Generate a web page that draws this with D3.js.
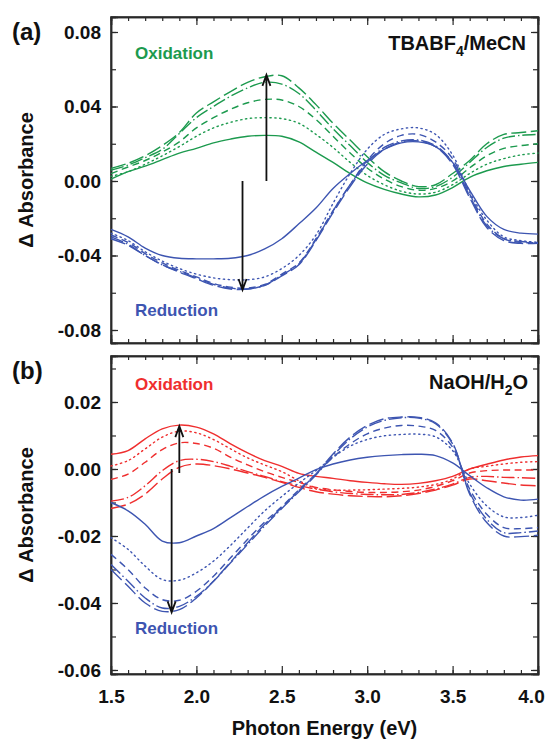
<!DOCTYPE html>
<html>
<head>
<meta charset="utf-8">
<script src="https://cdn.jsdelivr.net/npm/d3@7"></script>
<style>
  body { margin: 0; background: #fff; }
  svg { font-family: "Liberation Sans", Arial, sans-serif; font-weight: bold; }
  .axis path { stroke: #2a2a2a; stroke-width: 1.5; }
  .axis line { stroke: #2a2a2a; stroke-width: 1.2; }
  .axis text { font-size: 19px; font-weight: bold; fill: #111; font-family: "Liberation Sans", Arial, sans-serif; }
</style>
</head>
<body>
<div class="chart"></div>
<script>
// photon energy grid (eV)
const energy = [1.5,1.6,1.7,1.8,1.9,2.0,2.1,2.2,2.3,2.4,2.5,2.6,2.7,2.8,2.9,3.0,3.1,3.2,3.3,3.4,3.5,3.6,3.7,3.8,3.9,4.0];

// (a) TBABF4/MeCN, oxidation (green)
const tbaOxSolid  = [0.001,0.005,0.008,0.0115,0.015,0.0175,0.0205,0.0225,0.024,0.0245,0.024,0.021,0.0155,0.010,0.004,-0.001,-0.0045,-0.007,-0.0085,-0.0075,-0.0035,0.002,0.0055,0.0078,0.009,0.010];
const tbaOxDot    = [0.0025,0.005,0.009,0.0135,0.0185,0.024,0.0285,0.0315,0.0335,0.034,0.0335,0.031,0.025,0.018,0.010,0.003,-0.002,-0.0055,-0.007,-0.006,-0.002,0.004,0.009,0.012,0.014,0.015];
const tbaOxDash   = [0.004,0.0075,0.011,0.0155,0.021,0.0285,0.034,0.0385,0.042,0.0438,0.0435,0.040,0.033,0.024,0.015,0.007,0.001,-0.003,-0.005,-0.004,0.000,0.007,0.0135,0.0175,0.019,0.020];
const tbaOxDashDot= [0.0058,0.0085,0.0125,0.017,0.0255,0.034,0.040,0.0455,0.050,0.053,0.052,0.047,0.038,0.028,0.019,0.010,0.003,-0.001,-0.004,-0.003,0.002,0.010,0.018,0.023,0.0245,0.025];
const tbaOxLong   = [0.0068,0.0095,0.0135,0.019,0.026,0.0365,0.0425,0.048,0.053,0.056,0.0565,0.050,0.041,0.031,0.022,0.013,0.005,0.000,-0.003,-0.002,0.004,0.011,0.020,0.025,0.026,0.027];

// (a) TBABF4/MeCN, reduction (blue)
const tbaRedSolid  = [-0.026,-0.030,-0.036,-0.040,-0.0415,-0.0418,-0.0418,-0.0415,-0.040,-0.0365,-0.031,-0.023,-0.0145,-0.004,0.004,0.011,0.017,0.0205,0.021,0.0185,0.010,-0.005,-0.019,-0.026,-0.028,-0.0285];
const tbaRedDot    = [-0.028,-0.032,-0.038,-0.043,-0.047,-0.050,-0.052,-0.053,-0.053,-0.0515,-0.047,-0.040,-0.029,-0.012,0.004,0.017,0.025,0.028,0.0285,0.025,0.014,-0.006,-0.021,-0.030,-0.032,-0.033];
const tbaRedDash   = [-0.029,-0.033,-0.039,-0.044,-0.048,-0.0515,-0.055,-0.057,-0.0575,-0.0555,-0.050,-0.044,-0.031,-0.016,-0.002,0.011,0.020,0.0245,0.025,0.021,0.012,-0.007,-0.023,-0.031,-0.033,-0.033];
const tbaRedDashDot= [-0.030,-0.034,-0.040,-0.045,-0.0485,-0.052,-0.0555,-0.0575,-0.058,-0.056,-0.0505,-0.0445,-0.0315,-0.016,-0.002,0.010,0.018,0.0215,0.022,0.019,0.010,-0.008,-0.024,-0.031,-0.0325,-0.033];
const tbaRedLong   = [-0.031,-0.0345,-0.040,-0.045,-0.049,-0.0525,-0.056,-0.058,-0.058,-0.056,-0.051,-0.045,-0.032,-0.017,-0.003,0.009,0.017,0.021,0.0215,0.0185,0.009,-0.009,-0.025,-0.032,-0.0335,-0.0335];

// (b) NaOH/H2O, oxidation (red)
const naohOxSolid  = [0.0044,0.0055,0.009,0.012,0.0131,0.0125,0.0105,0.0075,0.0048,0.0025,0.0008,-0.0013,-0.0022,-0.0028,-0.0035,-0.004,-0.0044,-0.0046,-0.0043,-0.0035,-0.0022,0.000,0.0014,0.0027,0.0036,0.004];
const naohOxDot    = [0.0009,0.0025,0.006,0.0095,0.0113,0.0108,0.0088,0.006,0.0033,0.0012,-0.0008,-0.0035,-0.0058,-0.0063,-0.0063,-0.0062,-0.006,-0.0058,-0.0054,-0.0046,-0.003,0.000,0.0008,0.0015,0.002,0.0022];
const naohOxDash   = [-0.0031,-0.0015,0.002,0.0058,0.0078,0.0076,0.0062,0.0035,0.0012,-0.0008,-0.0025,-0.004,-0.0055,-0.0062,-0.0067,-0.007,-0.007,-0.0068,-0.0063,-0.0052,-0.0035,-0.0012,-0.0005,-0.0003,-0.0003,-0.0003];
const naohOxDashDot= [-0.0096,-0.0085,-0.005,-0.0005,0.0025,0.0029,0.0022,0.0008,-0.0008,-0.0022,-0.0038,-0.005,-0.006,-0.0068,-0.0073,-0.0076,-0.0077,-0.0076,-0.007,-0.006,-0.0045,-0.0025,-0.0022,-0.0025,-0.0026,-0.0028];
const naohOxLong   = [-0.0118,-0.0105,-0.0075,-0.003,0.0005,0.0015,0.001,0.000,-0.0012,-0.0025,-0.004,-0.0055,-0.0068,-0.0075,-0.008,-0.0082,-0.0083,-0.008,-0.0073,-0.0063,-0.0048,-0.003,-0.0035,-0.0042,-0.0048,-0.005];

// (b) NaOH/H2O, reduction (blue)
const naohRedSolid  = [-0.010,-0.0125,-0.0165,-0.0215,-0.022,-0.020,-0.0178,-0.0145,-0.0112,-0.008,-0.0052,-0.0027,-0.0002,0.0015,0.0027,0.0035,0.004,0.0043,0.0044,0.004,0.0018,-0.002,-0.0056,-0.0083,-0.0093,-0.009];
const naohRedDot    = [-0.0205,-0.024,-0.029,-0.033,-0.0332,-0.031,-0.0275,-0.0228,-0.0176,-0.0125,-0.0082,-0.0042,-0.0005,0.0035,0.0068,0.0088,0.0099,0.0103,0.0104,0.0096,0.0055,-0.0045,-0.011,-0.0143,-0.0145,-0.0138];
const naohRedDash   = [-0.0255,-0.030,-0.0355,-0.039,-0.0392,-0.0365,-0.032,-0.0265,-0.021,-0.0158,-0.0112,-0.0062,-0.0015,0.0035,0.0075,0.0105,0.0122,0.013,0.0128,0.0115,0.0065,-0.006,-0.0135,-0.0175,-0.0178,-0.0175];
const naohRedDashDot= [-0.0285,-0.0335,-0.0385,-0.0415,-0.041,-0.038,-0.0335,-0.028,-0.0225,-0.017,-0.0118,-0.0068,-0.0018,0.004,0.009,0.0125,0.0145,0.0153,0.0152,0.0135,0.0075,-0.007,-0.015,-0.019,-0.019,-0.0185];
const naohRedLong   = [-0.030,-0.035,-0.040,-0.0425,-0.042,-0.0385,-0.0335,-0.0278,-0.022,-0.0165,-0.0115,-0.0065,-0.0015,0.0045,0.0095,0.013,0.015,0.0155,0.0154,0.0138,0.0078,-0.0075,-0.016,-0.020,-0.0202,-0.0198];

// ticks
const xTicks = [1.5,2.0,2.5,3.0,3.5,4.0];
const yTicksA = [-0.08,-0.04,0.00,0.04,0.08];
const yTicksB = [-0.06,-0.04,-0.02,0.00,0.02];

// arrows [energy, from, to]
const arrowsA = [[2.41,0.000,0.057],[2.27,0.000,-0.0585]];
const arrowsB = [[1.90,-0.0012,0.0128],[1.855,0.000,-0.0428]];

const green = '#1c9a4e', blue = '#3d55b1', red = '#ef2e2e';
const styles = [null, '1.3,3.6', '7,4.5', '13,3,1.5,3', '15,4.5'];

const width = 545, height = 739;
const left = 111, right = 538;

const svg = d3.select('.chart').append('svg')
  .attr('width', width)
  .attr('height', height);

const x = d3.scaleLinear().domain([1.5, 4.0]).range([left, right]);

function drawPanel(opt){
  const y = d3.scaleLinear().domain(opt.domain).range([opt.bottom, opt.top]);
  const g = svg.append('g');
  const fmt = (d) => d3.format('.2f')(d).replace('\u2212', '-');

  // minor ticks on all sides
  const minorX = d3.range(15, 41).map(d => d / 10);
  g.append('g').attr('class', 'axis').attr('transform', `translate(0,${opt.bottom})`)
    .call(d3.axisBottom(x).tickValues(minorX).tickSize(-4).tickFormat(''));
  g.append('g').attr('class', 'axis').attr('transform', `translate(0,${opt.top})`)
    .call(d3.axisTop(x).tickValues(minorX).tickSize(-4).tickFormat(''));
  g.append('g').attr('class', 'axis').attr('transform', `translate(0,${opt.bottom})`)
    .call(d3.axisBottom(x).tickValues(xTicks).tickSize(-8).tickFormat(''));
  g.append('g').attr('class', 'axis').attr('transform', `translate(0,${opt.top})`)
    .call(d3.axisTop(x).tickValues(xTicks).tickSize(-8).tickFormat(''));

  g.append('g').attr('class', 'axis').attr('transform', `translate(${left},0)`)
    .call(d3.axisLeft(y).tickValues(opt.minorY).tickSize(-5).tickFormat(''));
  g.append('g').attr('class', 'axis').attr('transform', `translate(${right},0)`)
    .call(d3.axisRight(y).tickValues(opt.minorY).tickSize(-5).tickFormat(''));
  g.append('g').attr('class', 'axis').attr('transform', `translate(${left},0)`)
    .call(d3.axisLeft(y).tickValues(opt.yTicks).tickSize(-7).tickPadding(10).tickFormat(fmt));
  g.append('g').attr('class', 'axis').attr('transform', `translate(${right},0)`)
    .call(d3.axisRight(y).tickValues(opt.yTicks).tickSize(-7).tickFormat(''));

  if(opt.xLabels){
    const xa = g.append('g').attr('class', 'axis').attr('transform', `translate(0,${opt.bottom})`)
      .call(d3.axisBottom(x).tickValues(xTicks).tickSize(0).tickPadding(16).tickFormat(d3.format('.1f')));
    xa.select('.domain').remove();
    // last label sits at the window edge, nudge it in
    xa.selectAll('.tick text').filter(d => d === 4.0).attr('dx', -7);
  }

  // frame
  g.append('rect')
    .attr('x', left).attr('y', opt.top)
    .attr('width', right - left).attr('height', opt.bottom - opt.top)
    .attr('fill', 'none').attr('stroke', '#2a2a2a').attr('stroke-width', 1.5);

  const line = d3.line()
    .x((d, i) => x(energy[i]))
    .y(d => y(d))
    .curve(d3.curveCatmullRom.alpha(0.5));

  g.selectAll('.series')
    .data(opt.series)
    .enter()
    .append('path')
      .attr('class', 'series')
      .attr('d', d => line(d.values))
      .attr('fill', 'none')
      .attr('stroke', d => d.color)
      .attr('stroke-width', 1.4)
      .attr('stroke-linecap', d => d.dash === styles[1] ? 'round' : 'butt')
      .attr('stroke-dasharray', d => d.dash);

  // arrows with open heads
  g.selectAll('.arrow')
    .data(opt.arrows)
    .enter()
    .append('path')
      .attr('class', 'arrow')
      .attr('fill', 'none')
      .attr('stroke', '#111')
      .attr('stroke-width', 1.8)
      .attr('d', (d) => {
        const ax = x(d[0]), y0 = y(d[1]), y1 = y(d[2]);
        const dir = y1 < y0 ? 1 : -1;
        return `M${ax},${y0}L${ax},${y1}M${ax - 4},${y1 + dir * 11}L${ax},${y1}L${ax + 4},${y1 + dir * 11}`;
      });

  // y label
  g.append('text')
    .attr('transform', `translate(33,${(opt.top + opt.bottom) / 2}) rotate(-90)`)
    .attr('text-anchor', 'middle')
    .style('font-size', '20px')
    .attr('fill', '#111')
    .text('\u0394 Absorbance');

  // panel letter
  g.append('text')
    .attr('x', 12).attr('y', opt.top + 23)
    .style('font-size', '24px')
    .attr('fill', '#111')
    .text(opt.letter);

  g.append('text')
    .attr('x', 135).attr('y', opt.top + opt.oxY)
    .style('font-size', '17px')
    .attr('fill', opt.oxColor)
    .text('Oxidation');

  g.append('text')
    .attr('x', 135).attr('y', opt.bottom - opt.redY)
    .style('font-size', '17px')
    .attr('fill', blue)
    .text('Reduction');

  const sol = g.append('text')
    .attr('x', opt.solX).attr('y', opt.top + 33)
    .attr('text-anchor', 'end')
    .style('font-size', '20px')
    .attr('fill', '#111');
  sol.append('tspan').text(opt.solvent[0]);
  sol.append('tspan').attr('dy', 6).style('font-size', '14px').text(opt.solvent[1]);
  sol.append('tspan').attr('dy', -6).text(opt.solvent[2]);
}

function makeSeries(list, color){
  return list.map((v, i) => ({values: v, color: color, dash: styles[i]}));
}

drawPanel({
  top: 17, bottom: 343,
  domain: [-0.08698, 0.08805],
  yTicks: yTicksA,
  minorY: d3.range(-4, 5).map(d => d * 0.02),
  series: makeSeries([tbaOxSolid, tbaOxDot, tbaOxDash, tbaOxDashDot, tbaOxLong], green)
    .concat(makeSeries([tbaRedSolid, tbaRedDot, tbaRedDash, tbaRedDashDot, tbaRedLong], blue)),
  arrows: arrowsA,
  letter: '(a)',
  oxColor: green, oxY: 42, redY: 27,
  solvent: ['TBABF', '4', '/MeCN'], solX: 526,
  xLabels: false
});

drawPanel({
  top: 356, bottom: 674,
  domain: [-0.0612, 0.03373],
  yTicks: yTicksB,
  minorY: d3.range(-6, 4).map(d => d * 0.01),
  series: makeSeries([naohOxSolid, naohOxDot, naohOxDash, naohOxDashDot, naohOxLong], red)
    .concat(makeSeries([naohRedSolid, naohRedDot, naohRedDash, naohRedDashDot, naohRedLong], blue)),
  arrows: arrowsB,
  letter: '(b)',
  oxColor: red, oxY: 34, redY: 40,
  solvent: ['NaOH/H', '2', 'O'], solX: 528,
  xLabels: true
});

svg.append('text')
  .attr('x', (left + right) / 2)
  .attr('y', 735)
  .attr('text-anchor', 'middle')
  .style('font-size', '20px')
  .attr('fill', '#111')
  .text('Photon Energy (eV)');
</script>
</body>
</html>
